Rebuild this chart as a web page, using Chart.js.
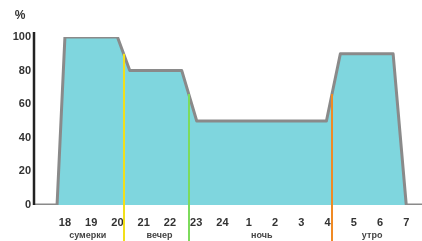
<!DOCTYPE html>
<html lang="ru">
<head>
    <meta charset="UTF-8">
    <title>Освещённость</title>
    <style>
        body { margin: 0; background: #fff; }
        #wrap { width: 422px; height: 241px; }
    </style>
    <script src="https://cdn.jsdelivr.net/npm/chart.js"></script>
</head>
<body>
    <div id="wrap">
        <canvas id="lightChart" width="422" height="241"></canvas>
    </div>

    <script>
        // часы (24 = полночь, 25 = 1 ночи и т.д.)
        const hours = [16.86, 17.7, 18.0, 20.0, 20.47, 22.45, 23.02, 27.96, 28.49, 30.5, 31.0, 31.6];
        const levels = [0, 0, 100, 100, 80, 80, 50, 50, 90, 90, 0, 0];

        const tickHours = [18, 19, 20, 21, 22, 23, 24, 25, 26, 27, 28, 29, 30, 31];
        const tickLabels = ['18', '19', '20', '21', '22', '23', '24', '1', '2', '3', '4', '5', '6', '7'];

        const periodNames = ['сумерки', 'вечер', 'ночь', 'утро'];
        const periodCenters = [18.87, 21.6, 25.5, 29.7];

        const markerHours = [20.24, 22.71, 28.18];
        const markerTops = [90, 66, 66];
        const markerColors = ['#f2df1a', '#7ddb5c', '#f08a24'];

        // ось Y, вертикальные линии, подписи периодов и знак %
        const extras = {
            id: 'extras',
            afterDatasetsDraw(chart) {
                const ctx = chart.ctx;
                const x = chart.scales.x, y = chart.scales.y;
                ctx.save();
                // ось Y чуть выше 100
                ctx.strokeStyle = '#222';
                ctx.lineWidth = 2.5;
                ctx.beginPath();
                ctx.moveTo(x.left - 1, y.top - 5);
                ctx.lineTo(x.left - 1, y.bottom);
                ctx.stroke();

                ctx.lineWidth = 2;
                markerHours.forEach((h, i) => {
                    const px = Math.round(x.getPixelForValue(h));
                    ctx.strokeStyle = markerColors[i];
                    ctx.beginPath();
                    ctx.moveTo(px, y.getPixelForValue(markerTops[i]));
                    ctx.lineTo(px, chart.height);
                    ctx.stroke();
                });
                ctx.fillStyle = '#444';
                ctx.font = 'bold 9px Arial';
                ctx.textAlign = 'center';
                ctx.textBaseline = 'middle';
                periodNames.forEach((name, i) => {
                    ctx.fillText(name, x.getPixelForValue(periodCenters[i]), 236);
                });
                ctx.fillStyle = '#333';
                ctx.font = 'bold 12px Arial';
                ctx.fillText('%', 20, 16);
                ctx.restore();
            }
        };

        const ctx = document.getElementById('lightChart').getContext('2d');
        new Chart(ctx, {
            type: 'line',
            data: {
                datasets: [{
                    data: hours.map((h, i) => ({ x: h, y: levels[i] })),
                    borderColor: '#8a8a8a',
                    borderWidth: 3,
                    borderJoinStyle: 'round',
                    backgroundColor: '#7fd6de',
                    fill: 'origin',
                    pointRadius: 0,
                    tension: 0
                }]
            },
            options: {
                responsive: false,
                animation: false,
                layout: { padding: { top: 37, left: 0, right: 0, bottom: 0 } },
                plugins: {
                    legend: { display: false },
                    tooltip: { enabled: false }
                },
                scales: {
                    x: {
                        type: 'linear',
                        min: 16.86,
                        max: 31.6,
                        afterBuildTicks: s => { s.ticks = tickHours.map(v => ({ value: v })); },
                        afterFit: s => { s.height = 36; },
                        grid: { display: false, drawTicks: false },
                        border: { display: false },
                        ticks: {
                            autoSkip: false,
                            maxRotation: 0,
                            padding: 11,
                            color: '#333',
                            font: { family: 'Arial', size: 11, weight: 'bold' },
                            callback: v => tickLabels[tickHours.indexOf(v)]
                        }
                    },
                    y: {
                        min: 0,
                        max: 100,
                        afterFit: s => { s.width = 35; },
                        grid: { display: false, drawTicks: false },
                        border: { display: false },
                        ticks: {
                            stepSize: 20,
                            padding: 4,
                            color: '#333',
                            font: { family: 'Arial', size: 11, weight: 'bold' }
                        }
                    }
                }
            },
            plugins: [extras]
        });
    </script>
</body>
</html>
